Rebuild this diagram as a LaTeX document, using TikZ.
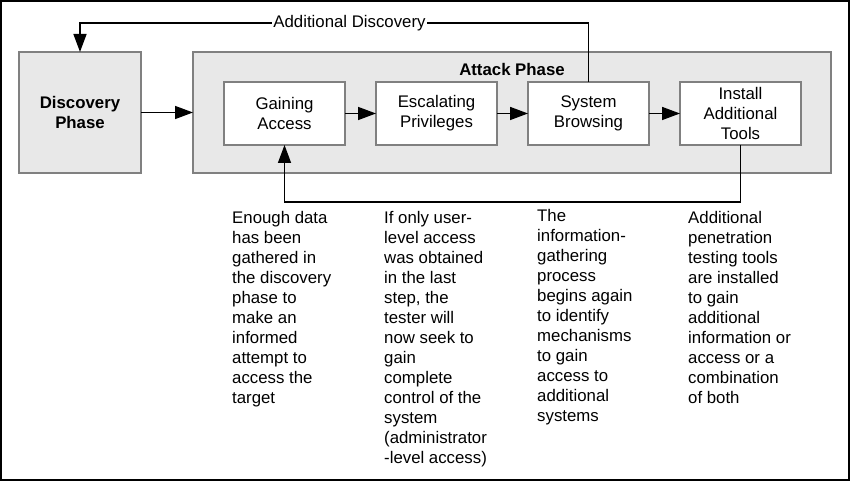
\documentclass[tikz,border=0pt]{standalone}
\usepackage{fontspec}
\setmainfont{Liberation Sans}
\usetikzlibrary{arrows.meta,positioning}
\definecolor{phasegray}{HTML}{E8E8E8}
\definecolor{edgegray}{HTML}{808080}
\newcommand{\boxfont}{\fontsize{16.8}{20}\selectfont}
\tikzset{
phase/.style = {draw=edgegray, fill=phasegray, line width=1.4pt, rectangle, minimum width=122pt, minimum height=121pt, outer sep=0pt, align=center, font=\bfseries\boxfont},
block/.style = {draw=edgegray, fill=white, line width=1.4pt, rectangle, minimum width=121pt, minimum height=63pt, outer sep=0pt, align=center, font=\boxfont},
note/.style  = {anchor=north west, align=left, inner sep=0pt, font=\boxfont},
tmp/.style   = {coordinate},
line/.style  = {line width=1.5pt}
}
\begin{document}
\begin{tikzpicture}[x=1pt, y=1pt, node distance=31pt, >={Triangle[length=18pt,width=13pt]}]
  \useasboundingbox (0,0) rectangle (850,481);
  \draw [line width=2pt] (1,1) rectangle (849,480);

  \node [phase]                     (disc)      at (80,368.5)   {Discovery\\Phase};
  \node [phase, minimum width=638pt] (attack)   at (512,368.5)  {};
  \node [anchor=base, font=\bfseries\boxfont] (attacklbl) at (512,405) {Attack Phase};
  \node [block]                     (gain)      at (284.5,367.5) {Gaining\\Access};
  \node [block, right=of gain]      (escal)     {Escalating\\Privileges};
  \node [block, right=of escal]     (sysb)      {System\\Browsing};
  \node [block, right=of sysb]      (tools)     {Install\\Additional\\Tools};
  \node [tmp]                       (topline)   at (0,458)      {};
  \node [tmp]                       (botline)   at (0,279)      {};

  \node [note] (notegain)  at (232,269.5) {Enough data\\has been\\gathered in\\the discovery\\phase to\\make an\\informed\\attempt to\\access the\\target};
  \node [note] (noteescal) at (384,269.5) {If only user-\\level access\\was obtained\\in the last\\step, the\\tester will\\now seek to\\gain\\complete\\control of the\\system\\(administrator\\-level access)};
  \node [note] (notesysb)  at (537,272)   {The\\information-\\gathering\\process\\begins again\\to identify\\mechanisms\\to gain\\access to\\additional\\systems};
  \node [note] (notetools) at (688,269.5) {Additional\\penetration\\testing tools\\are installed\\to gain\\additional\\information or\\access or a\\combination\\of both};

  \draw [->, line] (disc) -- (attack);
  \draw [->, line] (gain) -- (escal);
  \draw [->, line] (escal) -- (sysb);
  \draw [->, line] (sysb) -- (tools);
  \draw [->, line] (sysb.north) -- (sysb.north |- topline) -- node [fill=white, pos=0.47, inner sep=1pt, font=\boxfont] {Additional Discovery} (disc.north |- topline) -- (disc.north);
  \draw [->, line] (tools.south) -- (tools.south |- botline) -- (gain.south |- botline) -- (gain.south);
\end{tikzpicture}
\end{document}
